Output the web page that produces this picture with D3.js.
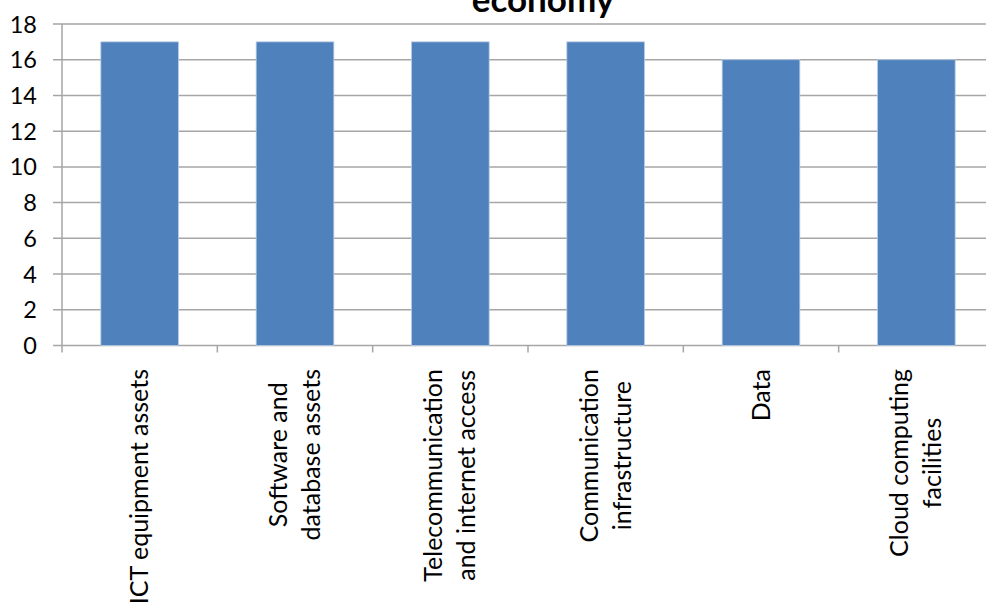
<!DOCTYPE html>
<html>
<head>
<meta charset="utf-8">
<script src="https://cdn.jsdelivr.net/npm/d3@7"></script>
<style>
  html, body { margin: 0; padding: 0; background: #fff; overflow: hidden; }
  svg { display: block; }
</style>
</head>
<body>
<div id="chart"></div>
<script>
// chart data
const categories = [
    ['ICT equipment assets'],
    ['Software and', 'database assets'],
    ['Telecommunication', 'and internet access'],
    ['Communication', 'infrastructure'],
    ['Data'],
    ['Cloud computing', 'facilities']
];
const values = [17, 17, 17, 17, 16, 16];
const yTicks = [0, 2, 4, 6, 8, 10, 12, 14, 16, 18];
const titleText = 'economy';

const W = 986, H = 604;
const font = 'Lato, "Open Sans", sans-serif';
const gridColor = '#a6a6a6';
const barColor = '#4f81bd';

const svg = d3.select('#chart')
    .append('svg')
    .attr('width', W)
    .attr('height', H);

const plotLeft = 62, plotRight = 994, plotTop = 24, plotBottom = 345.5;

const x = d3.scaleBand().domain(d3.range(categories.length)).range([plotLeft, plotRight]);
const y = d3.scaleLinear().domain([0, 18]).range([plotBottom, plotTop]);

// horizontal grid lines
svg.selectAll('.grid')
    .data(yTicks)
    .enter()
    .append('line')
    .attr('x1', plotLeft - 9)
    .attr('x2', W)
    .attr('y1', d => y(d))
    .attr('y2', d => y(d))
    .attr('stroke', gridColor)
    .attr('stroke-width', 1.5);

// y axis line
svg.append('line')
    .attr('x1', plotLeft).attr('x2', plotLeft)
    .attr('y1', plotTop).attr('y2', plotBottom + 7)
    .attr('stroke', gridColor)
    .attr('stroke-width', 1.5);

// x tick marks at category boundaries
svg.selectAll('.xtick')
    .data(d3.range(1, categories.length + 1))
    .enter()
    .append('line')
    .attr('x1', d => plotLeft + d * x.step())
    .attr('x2', d => plotLeft + d * x.step())
    .attr('y1', plotBottom)
    .attr('y2', plotBottom + 7)
    .attr('stroke', gridColor)
    .attr('stroke-width', 1.5);

// y tick labels
svg.selectAll('.ylabel')
    .data(yTicks)
    .enter()
    .append('text')
    .attr('x', 37)
    .attr('y', d => y(d) + 8.5)
    .attr('text-anchor', 'end')
    .attr('font-family', font)
    .attr('font-size', '23.5px')
    .attr('fill', '#000')
    .text(d => d);

// bars
svg.selectAll('.bar')
    .data(values)
    .enter()
    .append('rect')
    .attr('x', (d, i) => x(i) + x.bandwidth() / 4)
    .attr('width', x.bandwidth() / 2)
    .attr('y', d => y(d))
    .attr('height', d => y(0) - y(d))
    .attr('fill', barColor)
    .attr('stroke', '#b8cce4')
    .attr('stroke-width', 0.8);

// rotated category labels, lines centred on the longest one
const labelTop = 369, lineH = 33;
categories.forEach((lines, i) => {
    const cx = x(i) + x.bandwidth() / 2;
    const g = svg.append('g')
        .attr('transform', `translate(${cx},${labelTop}) rotate(-90)`);
    const texts = lines.map((t, j) => g.append('text')
        .attr('y', (j - (lines.length - 1) / 2) * lineH + 8.5)
        .attr('text-anchor', 'middle')
        .attr('font-family', font)
        .attr('font-size', '25px')
        .attr('fill', '#000')
        .text(t));
    const maxLen = d3.max(texts, t => t.node().getComputedTextLength());
    texts.forEach(t => t.attr('x', -maxLen / 2));
});

// title (top cut off in the original)
svg.append('text')
    .attr('x', 543)
    .attr('y', 12)
    .attr('text-anchor', 'middle')
    .attr('font-family', font)
    .attr('font-weight', 'bold')
    .attr('font-size', '35px')
    .attr('fill', '#000')
    .text(titleText);
</script>
</body>
</html>
